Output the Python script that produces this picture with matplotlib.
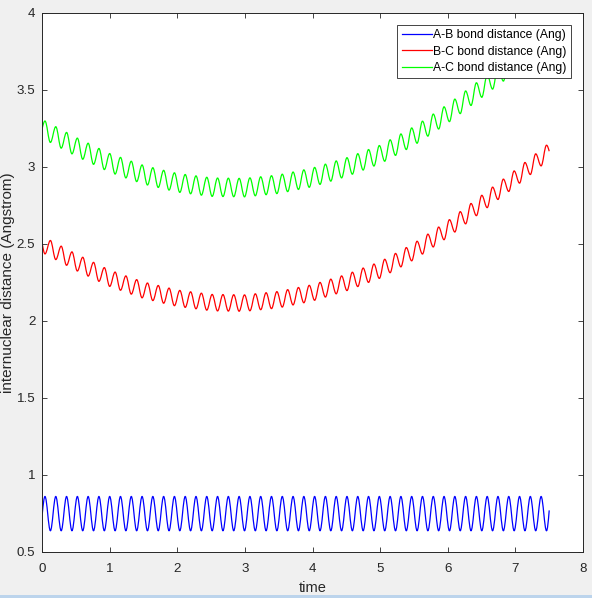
import matplotlib
matplotlib.use('Agg')
import matplotlib.pyplot as plt
from matplotlib.patches import Rectangle, PathPatch
from matplotlib.path import Path
from matplotlib.lines import Line2D

# sample times: start, every turning point of the vibration, end
time = [0.0,
        0.0399, 0.1197, 0.1995, 0.2793, 0.3590, 0.4388, 0.5186, 0.5984, 0.6782, 0.7580,
        0.8378, 0.9176, 0.9973, 1.0771, 1.1569, 1.2367, 1.3165, 1.3963, 1.4761, 1.5559,
        1.6356, 1.7154, 1.7952, 1.8750, 1.9548, 2.0346, 2.1144, 2.1941, 2.2739, 2.3537,
        2.4335, 2.5133, 2.5931, 2.6729, 2.7527, 2.8324, 2.9122, 2.9920, 3.0718, 3.1516,
        3.2314, 3.3112, 3.3910, 3.4707, 3.5505, 3.6303, 3.7101, 3.7899, 3.8697, 3.9495,
        4.0293, 4.1090, 4.1888, 4.2686, 4.3484, 4.4282, 4.5080, 4.5878, 4.6676, 4.7473,
        4.8271, 4.9069, 4.9867, 5.0665, 5.1463, 5.2261, 5.3059, 5.3856, 5.4654, 5.5452,
        5.6250, 5.7048, 5.7846, 5.8644, 5.9441, 6.0239, 6.1037, 6.1835, 6.2633, 6.3431,
        6.4229, 6.5027, 6.5824, 6.6622, 6.7420, 6.8218, 6.9016, 6.9814, 7.0612, 7.1410,
        7.2207, 7.3005, 7.3803, 7.4601,
        7.5]

ab_dist = [0.749,
           0.860, 0.638, 0.860, 0.638, 0.860, 0.638, 0.860, 0.638, 0.860, 0.638,
           0.860, 0.638, 0.860, 0.638, 0.860, 0.638, 0.860, 0.638, 0.860, 0.638,
           0.860, 0.638, 0.860, 0.638, 0.860, 0.638, 0.860, 0.638, 0.860, 0.638,
           0.860, 0.638, 0.860, 0.638, 0.860, 0.638, 0.860, 0.638, 0.860, 0.638,
           0.860, 0.638, 0.860, 0.638, 0.860, 0.638, 0.860, 0.638, 0.860, 0.638,
           0.860, 0.638, 0.860, 0.638, 0.860, 0.638, 0.860, 0.638, 0.860, 0.638,
           0.860, 0.638, 0.860, 0.638, 0.860, 0.638, 0.860, 0.638, 0.860, 0.638,
           0.860, 0.638, 0.860, 0.638, 0.860, 0.638, 0.860, 0.638, 0.860, 0.638,
           0.860, 0.638, 0.860, 0.638, 0.860, 0.638, 0.860, 0.638, 0.860, 0.638,
           0.860, 0.638, 0.860, 0.638,
           0.770]

bc_dist = [2.500,
           2.434, 2.521, 2.397, 2.484, 2.360, 2.447, 2.323, 2.412, 2.290, 2.379,
           2.256, 2.345, 2.223, 2.316, 2.198, 2.291, 2.173, 2.267, 2.149, 2.245,
           2.131, 2.229, 2.114, 2.212, 2.098, 2.197, 2.087, 2.188, 2.078, 2.179,
           2.069, 2.171, 2.064, 2.170, 2.063, 2.169, 2.062, 2.168, 2.065, 2.175,
           2.072, 2.182, 2.079, 2.189, 2.089, 2.202, 2.103, 2.216, 2.117, 2.230,
           2.133, 2.249, 2.154, 2.270, 2.175, 2.291, 2.196, 2.315, 2.222, 2.342,
           2.249, 2.368, 2.275, 2.399, 2.312, 2.437, 2.350, 2.475, 2.389, 2.516,
           2.433, 2.562, 2.479, 2.608, 2.526, 2.656, 2.576, 2.708, 2.629, 2.761,
           2.682, 2.814, 2.734, 2.867, 2.787, 2.919, 2.839, 2.972, 2.893, 3.027,
           2.949, 3.083, 3.005, 3.139,
           3.100]

ac_dist = [3.250,
           3.296, 3.157, 3.259, 3.120, 3.222, 3.083, 3.185, 3.048, 3.152, 3.015,
           3.118, 2.981, 3.085, 2.952, 3.060, 2.927, 3.035, 2.903, 3.011, 2.881,
           2.993, 2.865, 2.976, 2.848, 2.960, 2.833, 2.949, 2.824, 2.940, 2.815,
           2.931, 2.807, 2.926, 2.806, 2.925, 2.805, 2.924, 2.804, 2.927, 2.811,
           2.934, 2.818, 2.941, 2.825, 2.951, 2.838, 2.965, 2.852, 2.979, 2.866,
           2.995, 2.885, 3.016, 2.906, 3.037, 2.927, 3.058, 2.951, 3.084, 2.978,
           3.111, 3.004, 3.137, 3.035, 3.174, 3.073, 3.212, 3.111, 3.251, 3.152,
           3.295, 3.198, 3.341, 3.244, 3.388, 3.292, 3.438, 3.344, 3.491, 3.397,
           3.544, 3.450, 3.596, 3.503, 3.649, 3.555, 3.701, 3.608, 3.755, 3.663,
           3.811, 3.719, 3.867, 3.775,
           3.849]

labels = ['A-B bond distance (Ang)', 'B-C bond distance (Ang)', 'A-C bond distance (Ang)']
colors = ['#0000ff', '#ff0000', '#00ff00']


def wave_path(xs, ys, c=0.363):
    # smooth curve through the turning points: flat tangent at every
    # peak/trough, steep tangent at the two ends (which sit mid-swing)
    verts = [(xs[0], ys[0])]
    codes = [Path.MOVETO]
    last = len(xs) - 1
    for i in range(last):
        x0, y0, x1, y1 = xs[i], ys[i], xs[i + 1], ys[i + 1]
        h = x1 - x0
        dy = y1 - y0
        if i == 0:
            p1 = (x0 + c * h, y0 + c * dy * 1.571)
        else:
            p1 = (x0 + c * h, y0)
        if i + 1 == last:
            p2 = (x1 - c * h, y1 - c * dy * 1.571)
        else:
            p2 = (x1 - c * h, y1)
        verts += [p1, p2, (x1, y1)]
        codes += [Path.CURVE4] * 3
    return Path(verts, codes)


plt.rcParams['font.family'] = ['Liberation Sans', 'DejaVu Sans']
axcol = '#262626'

fig = plt.figure(figsize=(5.92, 5.98), dpi=100, facecolor='#f0f0f0')
ax = fig.add_axes([42.3 / 592, 46 / 598, 540.7 / 592, 539.5 / 598])
ax.set_facecolor('white')

handles = []
for series, lab, col in zip([ab_dist, bc_dist, ac_dist], labels, colors):
    ax.add_patch(PathPatch(wave_path(time, series), fill=False, edgecolor=col,
                           linewidth=0.9, transform=ax.transData))
    handles.append(Line2D([], [], color=col, linewidth=0.9, label=lab))

ax.set_xlim(0, 8)
ax.set_ylim(0.5, 4)
ax.set_xticks(range(0, 9))
ax.set_yticks([0.5, 1, 1.5, 2, 2.5, 3, 3.5, 4])
ax.set_yticklabels(['0.5', '1', '1.5', '2', '2.5', '3', '3.5', '4'])
ax.tick_params(direction='in', length=3.5, width=0.6, top=True, right=True,
               labelsize=9.6, colors=axcol, pad=5)
ax.tick_params(axis='x', pad=7.9)
for sp in ax.spines.values():
    sp.set_color(axcol)
    sp.set_linewidth(0.7)

ax.set_xlabel('time', fontsize=10.5, color=axcol, labelpad=4.5)
ax.set_ylabel('internuclear distance (Angstrom)', fontsize=11, color=axcol)
ax.yaxis.set_label_coords(-0.0505, 0.5)

leg = ax.legend(handles=handles, loc='upper right', bbox_to_anchor=(0.978, 0.9768),
                borderaxespad=0, fontsize=8.75, fancybox=False, framealpha=1,
                edgecolor=axcol, handlelength=2.47, handletextpad=0.15,
                borderpad=0.35, labelspacing=0.35)
leg.get_frame().set_linewidth(0.6)

# thin light-blue strip along the bottom edge of the window
fig.patches.append(Rectangle((0, 0), 1, 3 / 598, transform=fig.transFigure,
                             facecolor='#bcd4ec', edgecolor='none'))

fig.savefig('out.png', dpi=100, facecolor=fig.get_facecolor())
